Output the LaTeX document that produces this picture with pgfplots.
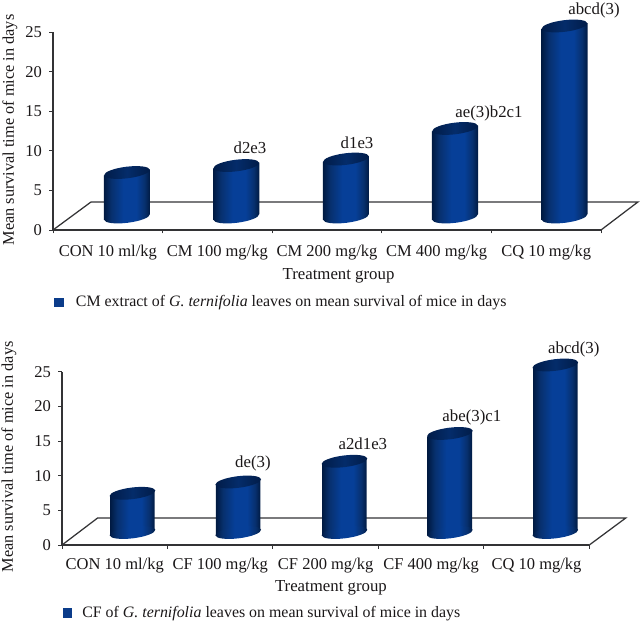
\documentclass[border=0pt]{standalone}
\usepackage{fontspec}
\setmainfont{Liberation Serif}
\usepackage{pgfplots}
\pgfplotsset{compat=1.18}
\usepackage{pgfplotstable}

\definecolor{txt}{HTML}{1A1718}
\definecolor{axln}{HTML}{333335}
\definecolor{legblue}{HTML}{0B3C8A}
\definecolor{cedge}{HTML}{001A42}
\definecolor{cside}{HTML}{07306E}
\definecolor{cmid}{HTML}{063F98}
\definecolor{ctopedge}{HTML}{011C48}
\definecolor{ctopmid}{HTML}{042C6A}

\pgfdeclarehorizontalshading{cylshade}{100bp}{color(0bp)=(cedge); color(25bp)=(cedge); color(33bp)=(cside); color(46bp)=(cmid); color(60bp)=(cmid); color(69bp)=(cside); color(75bp)=(cedge); color(100bp)=(cedge)}
\pgfdeclarehorizontalshading{cyltopshade}{100bp}{color(0bp)=(ctopedge); color(25bp)=(ctopedge); color(50bp)=(ctopmid); color(75bp)=(ctopedge); color(100bp)=(ctopedge)}

% elliptical ends of the cylinders, tilted like the 3D view
\pgfdeclareplotmark{cylbase}{%
  \pgfpathellipse{\pgfpointorigin}{\pgfpointpolar{7}{23pt}}{\pgfpointpolar{97}{5.8pt}}%
  \pgfshadepath{cylshade}{0}\pgfusepath{discard}}
\pgfdeclareplotmark{cyltop}{%
  \pgfpathellipse{\pgfpointorigin}{\pgfpointpolar{7}{23pt}}{\pgfpointpolar{97}{5.8pt}}%
  \pgfshadepath{cyltopshade}{0}\pgfusepath{discard}}

% x centre, value, half width, tilt (in y units), floor level
\newcommand{\cyl}[5]{%
  \pgfmathsetmacro\xl{#1-#3}\pgfmathsetmacro\xr{#1+#3}%
  \pgfmathsetmacro\topy{#5+#2}%
  \pgfmathsetmacro\tl{\topy-#4}\pgfmathsetmacro\tr{\topy+#4}%
  \pgfmathsetmacro\bl{#5-#4}\pgfmathsetmacro\br{#5+#4}%
  \edef\doit{%
    \noexpand\addplot[only marks,mark=cylbase] coordinates {(#1,#5)};
    \noexpand\addplot[draw=none,shade,shading=cylshade] coordinates {(\xl,\bl)(\xl,\tl)(\xr,\tr)(\xr,\br)};
    \noexpand\addplot[only marks,mark=cyltop] coordinates {(#1,\topy)};
  }\doit}

\pgfplotstableread{
x y lab
1.797 10.35 d2e3
2.774 10.98 d1e3
3.978 14.77 ae(3)b2c1
4.936 27.78 abcd(3)
}\labcm
\pgfplotstableread{
x y lab
1.810 11.83 de(3)
2.853 14.57 a2d1e3
3.886 18.47 abe(3)c1
4.853 28.28 abcd(3)
}\labcf

\pgfplotsset{
  myaxis/.style={
    scale only axis,
    clip=false,
    axis lines=left,
    axis line style={-,draw=axln,line width=1.25pt},
    tick style={draw=axln,line width=0.9pt},
    tick align=outside,
    major tick length=3.5pt,
    xmin=0,xmax=5,ymin=0,ymax=25,
    xtick={0,...,5},
    x tick label as interval,
    ytick={0,5,...,25},
    /pgf/number format/assume math mode=true,
    tick label style={font=\fontsize{16.5}{18}\selectfont,text=txt},
    y tick label style={xshift=-4pt},
    xlabel style={font=\fontsize{16.8}{18}\selectfont,text=txt},
    ylabel style={font=\fontsize{16.3}{18}\selectfont,text=txt},
    legend style={draw=none,fill=none,font=\fontsize{15.9}{18}\selectfont,text=txt},
  },
  barlabels/.style={only marks,mark=none,nodes near coords,point meta=explicit symbolic,
    every node near coord/.append style={anchor=center,font=\fontsize{16.8}{18}\selectfont,text=txt}},
}

\begin{document}
\begin{tikzpicture}
\useasboundingbox (0,0) rectangle (643pt,622pt);

\begin{axis}[myaxis,
  at={(53pt,392pt)},anchor=south west,width=548pt,height=198pt,
  xticklabels={CON 10 ml/kg,CM 100 mg/kg,CM 200 mg/kg,CM 400 mg/kg,CQ 10 mg/kg},
  x tick label style={yshift=-8pt},
  xlabel={Treatment group},ylabel={Mean survival time of mice in days},
  xlabel style={at={(axis description cs:0.521,-0.232)},anchor=center},
  ylabel style={at={(axis description cs:-0.0785,0.505)},anchor=center},
  legend style={at={(axis description cs:-0.003,-0.364)},anchor=west,
    /tikz/every odd column/.append style={column sep=11pt}},
]
\addlegendimage{only marks,mark=square*,mark size=4.2pt,color=legblue}
\addplot[draw=axln,line width=1.25pt] coordinates {(0,0)(0.347,3.54)(5.337,3.54)(5,0)};
\cyl{0.675}{5.62}{0.21}{0.36}{1.64}
\cyl{1.672}{6.50}{0.21}{0.36}{1.64}
\cyl{2.673}{7.32}{0.21}{0.36}{1.64}
\cyl{3.668}{11.18}{0.21}{0.36}{1.64}
\cyl{4.667}{24.12}{0.21}{0.36}{1.64}
\addplot[barlabels] table[x=x,y=y,meta=lab] {\labcm};
\legend{CM extract of \textit{G. ternifolia} leaves on mean survival of mice in days}
\end{axis}

\begin{axis}[myaxis,
  at={(62pt,77pt)},anchor=south west,width=527.3pt,height=173.3pt,
  xticklabels={CON 10 ml/kg,CF 100 mg/kg,CF 200 mg/kg,CF 400 mg/kg,CQ 10 mg/kg},
  x tick label style={yshift=-6pt},
  xlabel={Treatment group},ylabel={Mean survival time of mice in days},
  xlabel style={at={(axis description cs:0.51,-0.248)},anchor=center},
  ylabel style={at={(axis description cs:-0.1005,0.508)},anchor=center},
  legend style={at={(axis description cs:-0.0044,-0.39)},anchor=west,
    /tikz/every odd column/.append style={column sep=9pt}},
]
\addlegendimage{only marks,mark=square*,mark size=4.2pt,color=legblue}
\addplot[draw=axln,line width=1.25pt] coordinates {(0,0)(0.338,3.90)(5.346,3.90)(5,0)};
\cyl{0.668}{5.66}{0.211}{0.41}{1.80}
\cyl{1.671}{7.29}{0.211}{0.41}{1.80}
\cyl{2.678}{10.28}{0.211}{0.41}{1.80}
\cyl{3.678}{14.29}{0.211}{0.41}{1.80}
\cyl{4.678}{24.17}{0.211}{0.41}{1.80}
\addplot[barlabels] table[x=x,y=y,meta=lab] {\labcf};
\legend{CF of \textit{G. ternifolia} leaves on mean survival of mice in days}
\end{axis}
\end{tikzpicture}
\end{document}
